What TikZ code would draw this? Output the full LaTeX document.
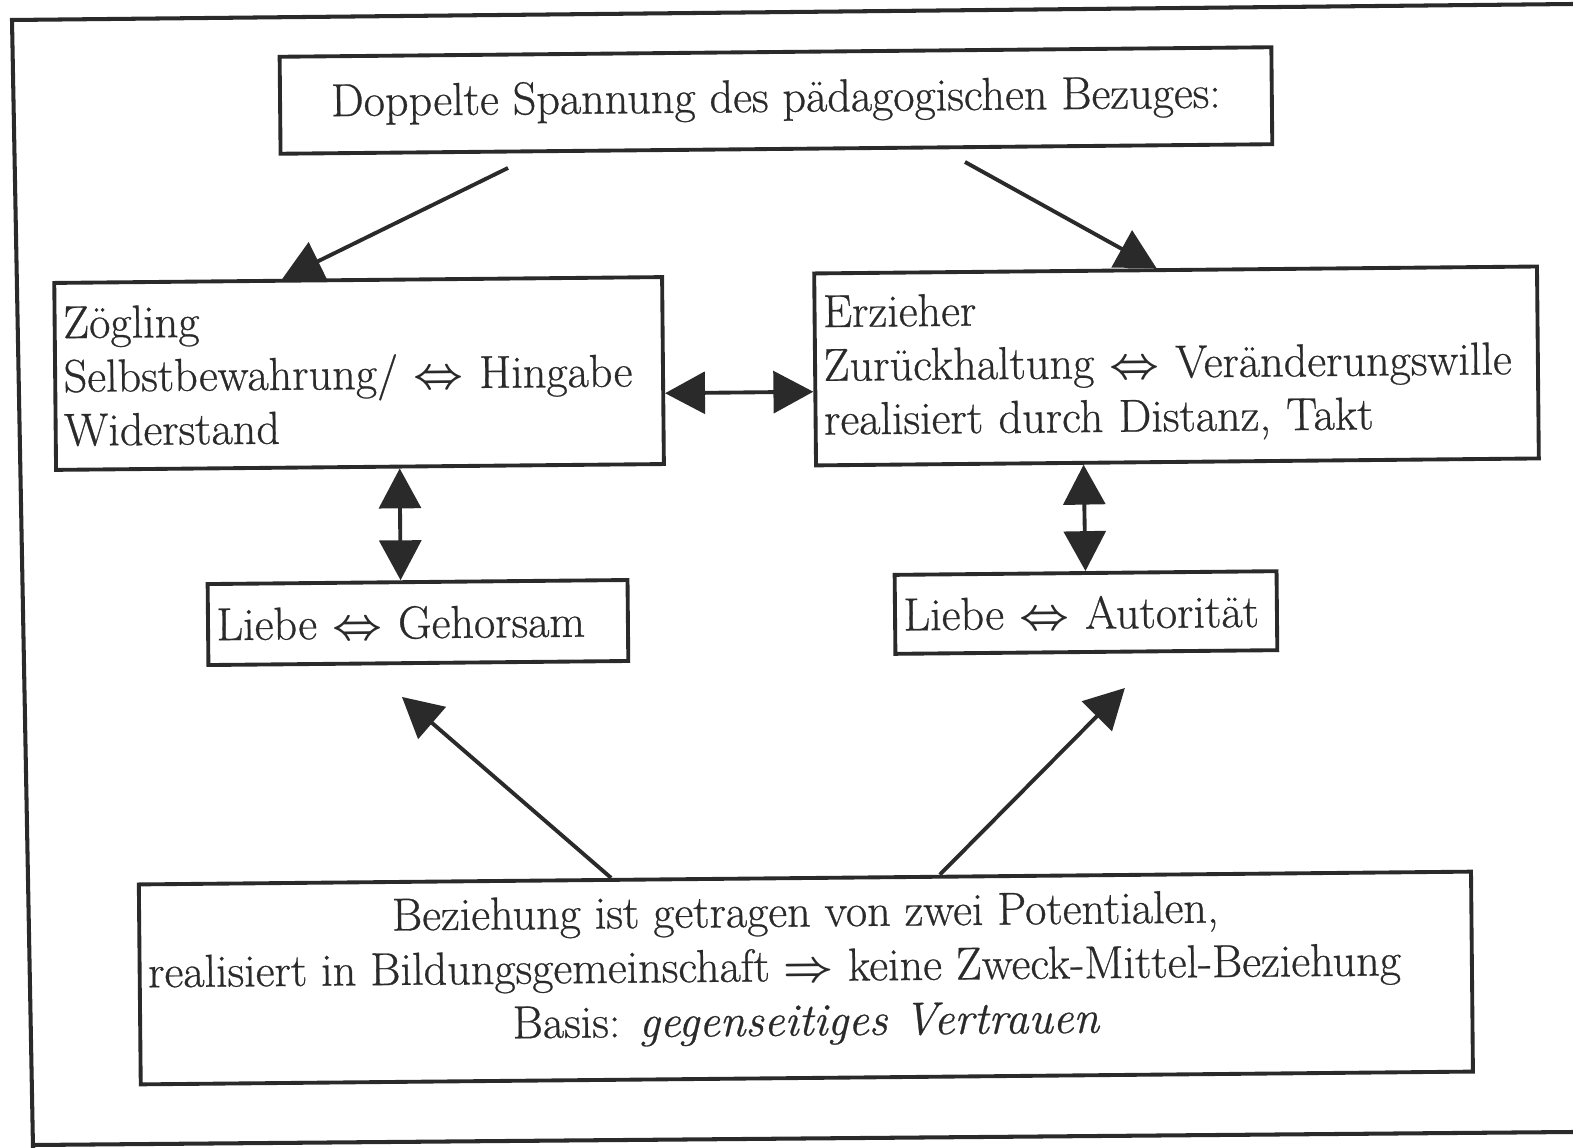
\documentclass[tikz,border=0pt]{standalone}
\usepackage{fontspec}
\setmainfont{lmroman17-regular.otf}[FakeBold=0.6, ItalicFont=lmroman12-italic.otf]
\usetikzlibrary{arrows.meta,calc}
\definecolor{ink}{HTML}{2A2A2A}
\newcommand{\lrarr}{{\boldmath$\Leftrightarrow$}}
\newcommand{\rarr}{{\boldmath$\Rightarrow$}}
\tikzset{
  box/.style={draw=ink, line width=2.2pt, text=ink, inner xsep=0.17cm, inner ysep=0pt,
    font=\fontsize{26.3}{30.6}\selectfont},
  arr/.style={draw=ink, line width=2.2pt, -{Triangle[length=22.7pt,width=23.8pt]}},
  dbl/.style={draw=ink, line width=2.2pt,
    {Triangle[length=22.7pt,width=23.8pt]}-{Triangle[length=22.7pt,width=23.8pt]}},
  frameline/.style={draw=ink, line width=2.3pt}
}
\begin{document}
\begin{tikzpicture}[x=0.02cm,y=-0.02cm]
\useasboundingbox (0,0) rectangle (1573,1148);
% outer frame (scanned page border)
\coordinate (f1) at (33,1148);
\coordinate (f2) at (12,20);
\coordinate (f3) at (1573,4);
\coordinate (f4) at (33,1145);
\coordinate (f5) at (1573,1132);
\draw[frameline] (f1) -- (f2) -- (f3);
\draw[frameline] (f4) -- (f5);
\begin{scope}[rotate around={0.55:(786,574)}, transform shape]
\node[box, minimum width=19.84cm, minimum height=1.94cm] (title) at (780.5,100.4)
  {Doppelte Spannung des pädagogischen Bezuges:};
\node[box, minimum width=12.16cm, minimum height=3.74cm, text width=11.82cm, align=left] (zog) at (361,369.4)
  {Zögling\\Selbstbewahrung/ \lrarr{} Hingabe\\Widerstand};
\node[box, minimum width=14.46cm, minimum height=3.84cm, text width=14.12cm, align=left] (erz) at (1178.5,369.7)
  {Erzieher\\Zurückhaltung \lrarr{} Veränderungswille\\realisiert durch Distanz, Takt};
\node[box, minimum width=8.4cm, minimum height=1.62cm, text width=8.06cm, align=left] (lg) at (417.5,619)
  {Liebe \lrarr{} Gehorsam};
\node[box, minimum width=7.64cm, minimum height=1.58cm, text width=7.3cm, align=left] (la) at (1085.6,615.4)
  {Liebe \lrarr{} Autorität};
\node[box, minimum width=26.64cm, minimum height=4cm, align=center,
  font=\fontsize{26.3}{31}\selectfont] (bot) at (802,978.2)
  {Beziehung ist getragen von zwei Potentialen,\\
   realisiert in Bildungsgemeinschaft \rarr{} keine Zweck-Mittel-Beziehung\mbox{}\hspace*{1.25cm}\mbox{}\\
   Basis: \textit{gegenseitiges Vertrauen}\rule[-0.52cm]{0pt}{0pt}};
\coordinate (s1) at (512,165.3);
\coordinate (s2) at (969,163.7);
\coordinate (t3) at (400.8,693.3);
\coordinate (t4) at (1123.9,691.3);
\draw[arr] (s1) -- ($(zog.north west)!0.376!(zog.north east)$);
\draw[arr] (s2) -- ($(erz.north west)!0.474!(erz.north east)$);
\draw[dbl] ($(zog.north east)!0.619!(zog.south east)$) -- ($(erz.north west)!0.614!(erz.south west)$);
\draw[dbl] ($(zog.south west)!0.565!(zog.south east)$) -- ($(lg.north west)!0.46!(lg.north east)$);
\draw[dbl] ($(erz.south west)!0.371!(erz.south east)$) -- ($(la.north west)!0.5!(la.north east)$);
\draw[arr] ($(bot.north west)!0.355!(bot.north east)$) -- (t3);
\draw[arr] ($(bot.north west)!0.601!(bot.north east)$) -- (t4);
\end{scope}
\end{tikzpicture}
\end{document}
